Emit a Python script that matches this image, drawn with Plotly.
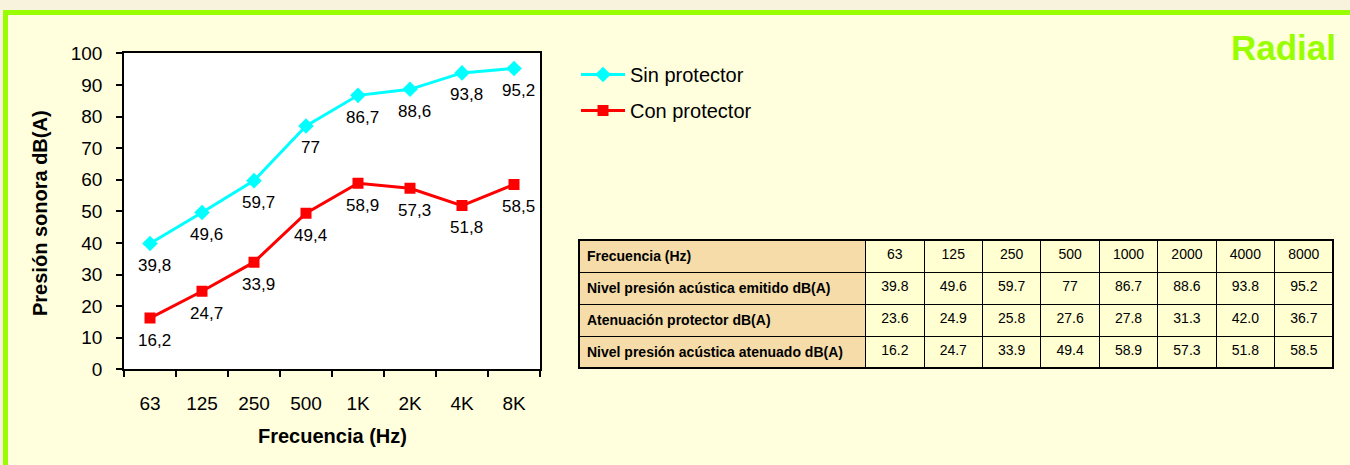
import plotly.graph_objects as go

# ---- data ----
categories = ["63", "125", "250", "500", "1K", "2K", "4K", "8K"]
freq_hz = ["63", "125", "250", "500", "1000", "2000", "4000", "8000"]
sin_protector = [39.8, 49.6, 59.7, 77, 86.7, 88.6, 93.8, 95.2]
con_protector = [16.2, 24.7, 33.9, 49.4, 58.9, 57.3, 51.8, 58.5]
atenuacion = [23.6, 24.9, 25.8, 27.6, 27.8, 31.3, 42.0, 36.7]
row_labels = ["Frecuencia (Hz)", "Nivel presión acústica emitido dB(A)",
              "Atenuación protector dB(A)", "Nivel presión acústica atenuado dB(A)"]
y_ticks = [0, 10, 20, 30, 40, 50, 60, 70, 80, 90, 100]

W, H = 1350, 465
FONT = "Liberation Sans, Arial, sans-serif"
CYAN = "#00FFFF"
RED = "#FF0000"
GREEN = "#99FF00"
BG = "#FFFFDD"
BEIGE = "#F8F3DC"
TAN = "#F5DCA8"
CELL = "#FFFFD2"

def px(x):
    return x / W

def py(y):
    return 1 - y / H

fig = go.Figure()
fig.add_trace(go.Scatter(
    x=categories, y=sin_protector, mode="lines+markers", name="Sin protector",
    line=dict(color=CYAN, width=3), marker=dict(symbol="diamond", size=12, color=CYAN),
    legendgroup="a"))
fig.add_trace(go.Scatter(
    x=categories, y=con_protector, mode="lines+markers", name="Con protector",
    line=dict(color=RED, width=3), marker=dict(symbol="square", size=11, color=RED),
    legendgroup="b"))

annotations = []
for series in (sin_protector, con_protector):
    for i, v in enumerate(series):
        annotations.append(dict(
            x=i, y=v, xref="x", yref="y", text=f"{v:g}".replace(".", ","),
            showarrow=False, xshift=4, yshift=-22, xanchor="center", yanchor="middle",
            font=dict(family=FONT, size=17, color="#000000")))

# axis titles
annotations.append(dict(x=px(332), y=py(436), xref="paper", yref="paper",
                        xanchor="center", yanchor="middle",
                        text="<b>Frecuencia (Hz)</b>", showarrow=False,
                        font=dict(family=FONT, size=20, color="#000")))
annotations.append(dict(x=px(40), y=py(213), xref="paper", yref="paper",
                        xanchor="center", yanchor="middle",
                        text="<b>Presión sonora dB(A)</b>", showarrow=False, textangle=-90,
                        font=dict(family=FONT, size=20, color="#000")))
# title
annotations.append(dict(x=px(1338), y=py(47), xref="paper", yref="paper",
                        xanchor="right", yanchor="middle",
                        text="<b>Radial</b>", showarrow=False,
                        font=dict(family=FONT, size=35, color=GREEN)))

# ---- table ----
emitido = [f"{v:g}" for v in sin_protector]
aten = [f"{v:.1f}" for v in atenuacion]
atenuado = [f"{v:.1f}" for v in con_protector]
header_vals = [f"<b>{row_labels[0]}</b>"] + freq_hz
cell_cols = [[f"<b>{t}</b>" for t in row_labels[1:]]]
for i in range(len(categories)):
    cell_cols.append([emitido[i], aten[i], atenuado[i]])

fills = [TAN] + [CELL] * len(categories)
aligns = ["left"] + ["center"] * len(categories)
fig.add_trace(go.Table(
    domain=dict(x=[px(579), px(1333)], y=[py(368), py(240)]),
    columnwidth=[287] + [58.5] * len(categories),
    header=dict(values=header_vals, height=32, align=aligns,
                fill=dict(color=fills), line=dict(color="#000", width=1),
                font=dict(family=FONT, size=14, color="#000")),
    cells=dict(values=cell_cols, height=32, align=aligns,
               fill=dict(color=[[c] * 3 for c in fills]), line=dict(color="#000", width=1),
               font=dict(family=FONT, size=14, color="#000")),
))

shapes = [
    dict(type="rect", xref="paper", yref="paper", x0=0, x1=1, y0=py(10), y1=1,
         fillcolor=BEIGE, line=dict(width=0), layer="below"),
    dict(type="rect", xref="paper", yref="paper", x0=0, x1=px(3), y0=0, y1=1,
         fillcolor=BEIGE, line=dict(width=0), layer="below"),
    dict(type="rect", xref="paper", yref="paper", x0=px(3), x1=1, y0=py(15), y1=py(10),
         fillcolor=GREEN, line=dict(width=0), layer="below"),
    dict(type="rect", xref="paper", yref="paper", x0=px(3), x1=px(8), y0=0, y1=py(10),
         fillcolor=GREEN, line=dict(width=0), layer="below"),
    dict(type="rect", xref="paper", yref="paper", x0=px(579), x1=px(1333), y0=py(368), y1=py(240),
         fillcolor="rgba(0,0,0,0)", line=dict(color="#000", width=2), layer="above"),
]

fig.update_layout(
    width=W, height=H,
    margin=dict(l=0, r=0, t=0, b=0),
    paper_bgcolor=BG, plot_bgcolor="#FFFFFF",
    font=dict(family=FONT, color="#000"),
    showlegend=True,
    legend=dict(x=px(576), y=py(55), xanchor="left", yanchor="top",
                bgcolor="rgba(0,0,0,0)", font=dict(family=FONT, size=20, color="#000"),
                tracegroupgap=7, traceorder="grouped", itemwidth=44),
    xaxis=dict(domain=[px(124), px(540)], type="category", range=[-0.5, 7.5],
               showgrid=False, showline=True, linecolor="#000", linewidth=1.5, mirror=True,
               ticks="outside", tickson="boundaries", ticklen=6, tickcolor="#000",
               tickwidth=1.5, ticklabelstandoff=16, automargin=False,
               tickfont=dict(family=FONT, size=19, color="#000"), fixedrange=True),
    yaxis=dict(domain=[py(369.3), py(53.3)], range=[0, 100], showgrid=False,
               tickvals=y_ticks, zeroline=False,
               showline=True, linecolor="#000", linewidth=1.5, mirror=True,
               ticks="outside", ticklen=6, tickcolor="#000", tickwidth=1.5,
               ticklabelstandoff=10, automargin=False,
               tickfont=dict(family=FONT, size=19, color="#000"), fixedrange=True),
    annotations=annotations,
    shapes=shapes,
)

fig.write_html("out.html", config={"displayModeBar": False},
               post_script="document.body.style.margin='0';document.body.style.overflow='hidden';")
